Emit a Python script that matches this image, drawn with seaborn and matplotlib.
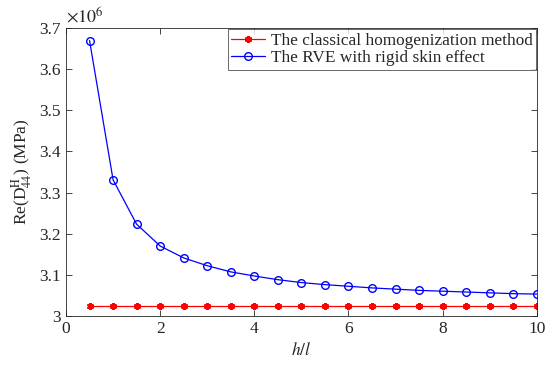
import numpy as np
import pandas as pd
import matplotlib
matplotlib.use("Agg")
import matplotlib.pyplot as plt
import seaborn as sns

# h/l ratios
ratio = [0.5, 1.0, 1.5, 2.0, 2.5, 3.0, 3.5, 4.0, 4.5, 5.0,
         5.5, 6.0, 6.5, 7.0, 7.5, 8.0, 8.5, 9.0, 9.5, 10.0]

# Re(D44^H) in units of 1e6 MPa
classical = [3.025] * 20
rve_skin = [3.670, 3.331, 3.223, 3.170, 3.141, 3.122, 3.107, 3.097, 3.088, 3.081,
            3.076, 3.072, 3.068, 3.065, 3.062, 3.060, 3.058, 3.056, 3.054, 3.053]

labels = ["The classical homogenization method", "The RVE with rigid skin effect"]

sns.set_style("ticks")
plt.rcParams['font.family'] = ['Liberation Serif', 'DejaVu Serif']
plt.rcParams['mathtext.fontset'] = 'stix'

df = pd.DataFrame({
    'ratio': ratio * 2,
    'value': classical + rve_skin,
    'method': [labels[0]] * len(ratio) + [labels[1]] * len(ratio),
})

fig = plt.figure(figsize=(5.5, 3.66), dpi=100)
ax = fig.add_axes([0.12, 0.137, 0.856, 0.786])

sns.lineplot(data=df, x='ratio', y='value', hue='method', style='method',
             palette=['#ff0000', '#0000ff'], markers=['*', 'o'], dashes=False,
             linewidth=0.9, markersize=5.5, ax=ax)

ax.set_xlim(0, 10)
ax.set_ylim(3.0, 3.7)
ax.set_xticks([0, 2, 4, 6, 8, 10])
ax.set_yticks([3.0, 3.1, 3.2, 3.3, 3.4, 3.5, 3.6, 3.7])
ax.set_yticklabels(['3', '3.1', '3.2', '3.3', '3.4', '3.5', '3.6', '3.7'])
ax.tick_params(direction='in', top=True, right=True, labelsize=12.5, length=4,
               width=0.6, colors='#262626')
for s in ax.spines.values():
    s.set_linewidth(0.6)
    s.set_color('#262626')

ax.set_xlabel('$h/l$', fontsize=12.5)
ax.set_ylabel(r'Re(D$_{44}^{\mathrm{H}}$) (MPa)', fontsize=12.5)
ax.text(0.0, 1.005, r'$\times 10^{6}$', transform=ax.transAxes, fontsize=13,
        ha='left', va='bottom')


def restyle(line):
    # MATLAB-like markers: open circles and line-art asterisks
    if line.get_marker() == 'o':
        line.set_markerfacecolor('none')
        line.set_markeredgecolor('#0000ff')
        line.set_markeredgewidth(1.0)
    elif line.get_marker() == '*':
        line.set_marker((6, 2, 0))
        line.set_markersize(5)
        line.set_markeredgecolor('#ff0000')
        line.set_markeredgewidth(1.5)


for line in ax.lines:
    restyle(line)

leg = ax.legend(loc='upper right', fontsize=12.4, frameon=True, fancybox=False,
                edgecolor='#262626', borderpad=0.2, labelspacing=0.1,
                handlelength=2.0, handletextpad=0.3, borderaxespad=0.05)
leg.get_frame().set_linewidth(0.6)
for h in leg.legend_handles:
    restyle(h)

fig.savefig('out.png', dpi=100)
